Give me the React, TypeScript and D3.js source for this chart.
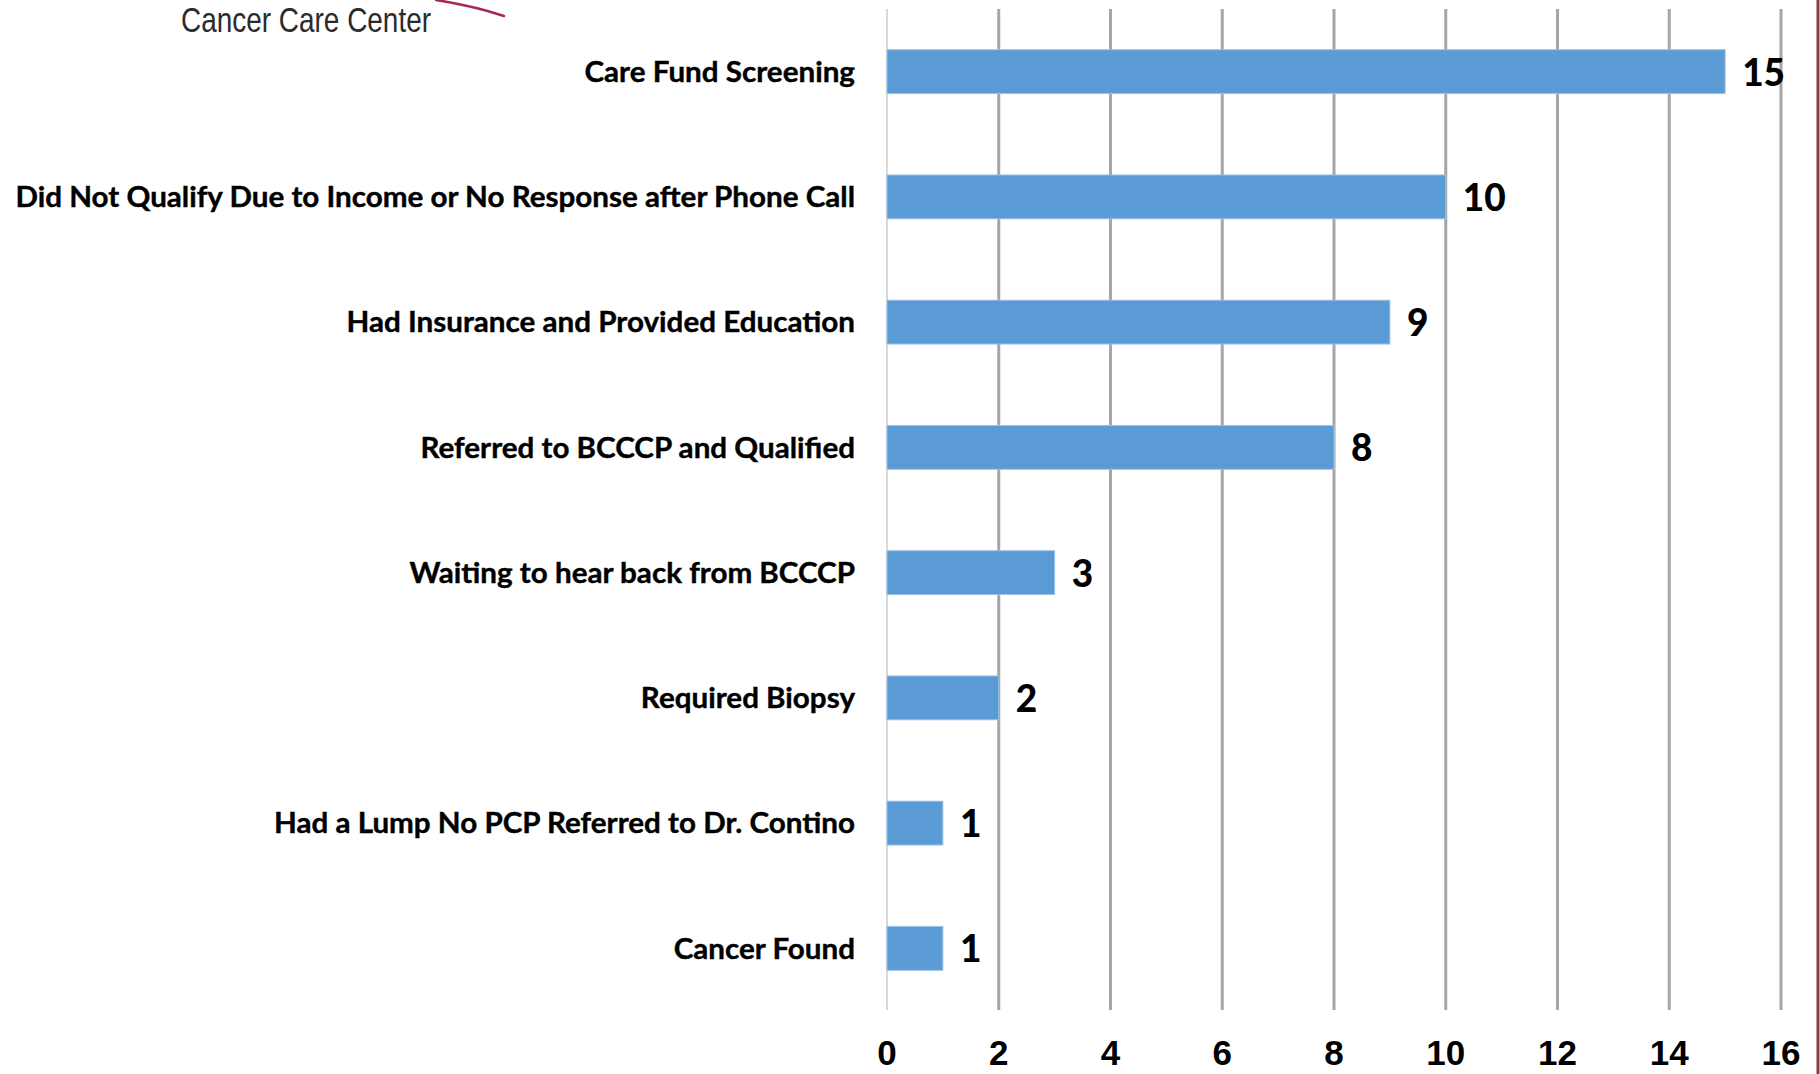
import React, {useRef, useEffect} from 'react';
import * as d3 from 'd3';

// categories top to bottom
const categories = [
    'Care Fund Screening',
    'Did Not Qualify Due to Income or No Response after Phone Call',
    'Had Insurance and Provided Education',
    'Referred to BCCCP and Qualified',
    'Waiting to hear back from BCCCP',
    'Required Biopsy',
    'Had a Lump No PCP Referred to Dr. Contino',
    'Cancer Found',
];
const counts = [15, 10, 9, 8, 3, 2, 1, 1];
const xTicks = [0, 2, 4, 6, 8, 10, 12, 14, 16];
const logoText = 'Cancer Care Center';

const W = 1820;
const H = 1074;

const App: React.FC = () => {
    const svgRef = useRef<SVGSVGElement>(null);

    useEffect(() => {
        document.body.style.margin = '0';
        if (!svgRef.current) return;
        const svg = d3.select(svgRef.current);
        svg.selectAll('*').remove();

        const x = d3.scaleLinear().domain([0, 16]).range([887, 1781]);
        const y = d3.scaleBand<string>()
            .domain(categories)
            .range([9, 1011])
            .paddingInner(0.65)
            .paddingOuter(0.325);

        svg.append('rect').attr('width', W).attr('height', H).attr('fill', '#fff');

        // logo remnant
        svg.append('path')
            .attr('d', 'M436,0 Q474,6 504,16')
            .attr('fill', 'none')
            .attr('stroke', '#a3285f')
            .attr('stroke-width', 2.5)
            .attr('stroke-linecap', 'round');
        svg.append('text')
            .attr('x', 181)
            .attr('y', 32)
            .attr('textLength', 250)
            .attr('lengthAdjust', 'spacingAndGlyphs')
            .style('font-family', '"Liberation Sans", Arial, sans-serif')
            .style('font-size', '35px')
            .style('fill', '#2b2b2b')
            .text(logoText);

        // gridlines
        svg.append('g')
            .selectAll('line')
            .data(xTicks)
            .join('line')
            .attr('x1', d => x(d))
            .attr('x2', d => x(d))
            .attr('y1', 9)
            .attr('y2', 1010)
            .attr('stroke', d => d === 0 ? '#d9d9d9' : '#a6a6a6')
            .attr('stroke-width', d => d === 0 ? 2 : 3);

        // bars
        svg.append('g')
            .selectAll('rect')
            .data(categories)
            .join('rect')
            .attr('x', x(0))
            .attr('y', d => y(d)!)
            .attr('width', (d, i) => x(counts[i]) - x(0))
            .attr('height', y.bandwidth())
            .attr('fill', '#5b9bd5')
            .attr('stroke', '#9dc3e6')
            .attr('stroke-width', 1);

        // value labels
        svg.append('g')
            .selectAll('text')
            .data(categories)
            .join('text')
            .attr('x', (d, i) => x(counts[i]) + 17)
            .attr('y', d => y(d)! + y.bandwidth() / 2)
            .attr('dy', '0.38em')
            .style('font-family', 'Lato, sans-serif')
            .style('font-weight', 900)
            .style('font-size', '37px')
            .style('fill', '#000')
            .text((d, i) => counts[i]);

        // category labels, squeezed so the longest one fits
        const labelRight = 855;
        const labels = svg.append('g')
            .selectAll('text')
            .data(categories)
            .join('text')
            .attr('text-anchor', 'end')
            .attr('dy', '0.36em')
            .style('font-family', 'Lato, sans-serif')
            .style('font-weight', 'bold')
            .style('font-size', '28.5px')
            .style('fill', '#000')
            .style('stroke', '#000')
            .style('stroke-width', 0.4)
            .text(d => d);
        let widest = 0;
        labels.each(function () {
            widest = Math.max(widest, (this as SVGTextElement).getComputedTextLength());
        });
        const sx = widest > 0 ? (labelRight - 15) / widest : 1;
        labels.attr('transform', d => `translate(${labelRight},${y(d)! + y.bandwidth() / 2}) scale(${sx},1)`);

        // x tick labels
        svg.append('g')
            .selectAll('text')
            .data(xTicks)
            .join('text')
            .attr('x', d => x(d))
            .attr('y', 1065)
            .attr('text-anchor', 'middle')
            .style('font-family', '"Liberation Sans", Arial, sans-serif')
            .style('font-weight', 'bold')
            .style('font-size', '35px')
            .style('fill', '#000')
            .text(d => d);

        // page border on the right
        svg.append('line')
            .attr('x1', 1818)
            .attr('x2', 1818)
            .attr('y1', 0)
            .attr('y2', H)
            .attr('stroke', '#8c3b3b')
            .attr('stroke-width', 3);
    }, []);

    return (
        <svg
            ref={svgRef}
            width={W}
            height={H}
            viewBox={`0 0 ${W} ${H}`}
            style={{display: 'block'}}
        />
    );
};

export default App;
